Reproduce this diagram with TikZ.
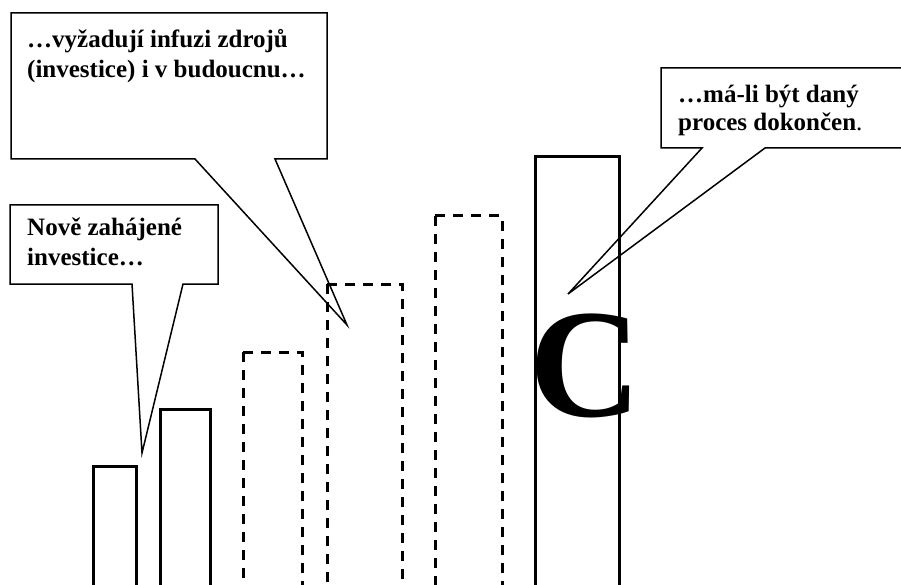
\documentclass[tikz,border=0pt]{standalone}
\usepackage{fontspec}
\setmainfont{Liberation Serif}
\begin{document}
\begin{tikzpicture}[x=1pt,y=-1pt,
  callout/.style={draw=black, line width=1.5pt, line join=miter},
  barsolid/.style={draw=black, line width=3pt, line join=miter},
  bardashed/.style={draw=black, line width=3pt, dash pattern=on 10pt off 8pt},
  lbl/.style={anchor=base west, inner sep=0pt, font=\fontsize{25}{29}\selectfont\bfseries}]
\useasboundingbox (0,0) rectangle (901,585);
\clip (0,0) rectangle (901,585);

% solid bars on the left
\draw[barsolid] (93,600) |- (136,466) -- (136,600);
\draw[barsolid] (160,600) |- (210,409) -- (210,600);

% dashed bars
\draw[bardashed] (243,352) -- (243,600);
\draw[bardashed] (243,352) -- (302,352) -- (302,600);
\draw[bardashed] (327,284) -- (327,600);
\draw[bardashed] (327,284) -- (402,284) -- (402,600);
\draw[bardashed] (435,216) -- (435,600);
\draw[bardashed] (435,216) -- (502,216) -- (502,600);

% tall solid bar with the letter
\draw[barsolid] (535,600) |- (619,157) -- (619,600);
\node[anchor=base west, inner sep=0pt, font=\fontsize{155}{155}\selectfont\bfseries] (bigC) at (529,416) {C};

% callout: future investments
\draw[callout] (11,13) -- (327,13) -- (327,159) -- (275,159) -- (347,325) -- (195,159) -- (11,159) -- cycle;
\node[lbl] (t1a) at (27,48) {…vyžadují infuzi zdrojů};
\node[lbl] (t1b) at (27,78) {(investice) i v budoucnu…};

% callout: new investments
\draw[callout] (10,205) -- (218,205) -- (218,284) -- (183,284) -- (142,453) -- (132,284) -- (10,284) -- cycle;
\node[lbl] (t2a) at (27,236) {Nově zahájené};
\node[lbl] (t2b) at (27,265) {investice…};

% callout: completion
\draw[callout] (661,68) -- (910,68) -- (910,148) -- (765,148) -- (568,294) -- (702,148) -- (661,148) -- cycle;
\node[lbl] (t3a) at (678,103) {…má-li být daný};
\node[lbl] (t3b) at (678,131) {proces dokončen\textmd{.}};
\end{tikzpicture}
\end{document}
